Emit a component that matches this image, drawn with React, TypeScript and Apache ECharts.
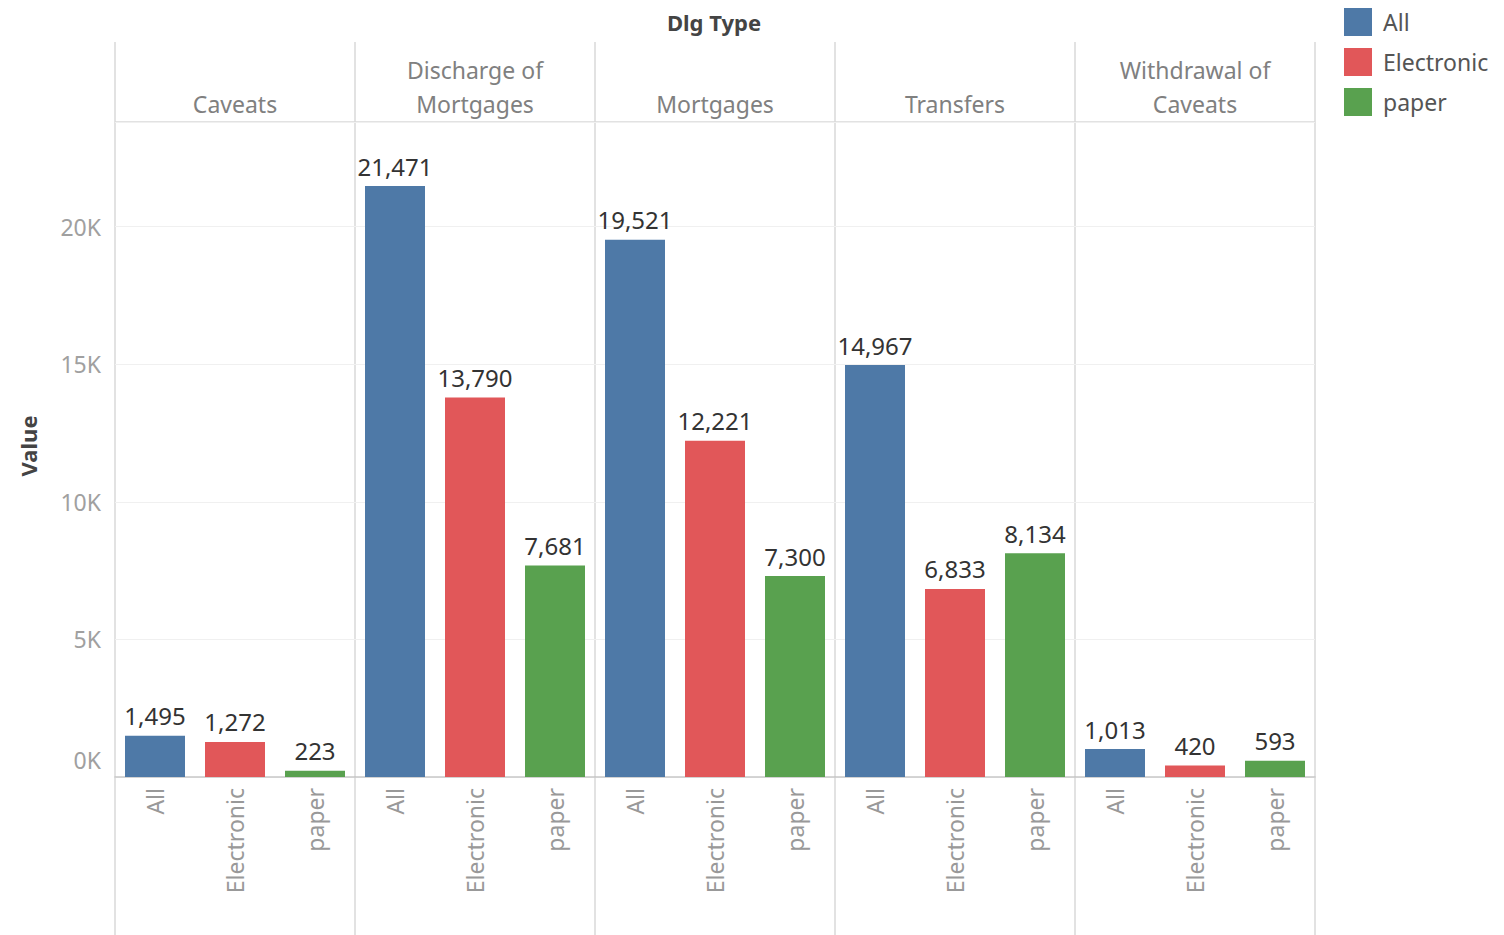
import React, { useEffect, useRef } from "react";
import * as echarts from "echarts";

const panels = ["Caveats", "Discharge of\nMortgages", "Mortgages", "Transfers", "Withdrawal of\nCaveats"];
const categories = ["All", "Electronic", "paper"];
const allValues = [1495, 21471, 19521, 14967, 1013];
const electronicValues = [1272, 13790, 12221, 6833, 420];
const paperValues = [223, 7681, 7300, 8134, 593];
const yTicks = [0, 5000, 10000, 15000, 20000];

const COLORS = ["#4e79a7", "#e15759", "#59a14f"];
const FONT = "Noto Sans";
const PANEL_LEFT = 115;
const PANEL_W = 240;
const PLOT_TOP = 122;
const PLOT_BOTTOM = 777;
const Y_MAX = 23800;

export default function App() {
  const ref = useRef<HTMLDivElement>(null);
  useEffect(() => {
    const chart = echarts.init(ref.current!, null, { renderer: "svg" });
    const seriesValues = [allValues, electronicValues, paperValues];
    const grids: any[] = [];
    const xAxes: any[] = [];
    const yAxes: any[] = [];
    const series: any[] = [];
    const graphics: any[] = [];
    panels.forEach((p, i) => {
      grids.push({
        left: PANEL_LEFT + PANEL_W * i,
        width: PANEL_W,
        top: PLOT_TOP,
        height: PLOT_BOTTOM - PLOT_TOP,
      });
      xAxes.push({
        type: "category",
        gridIndex: i,
        data: categories,
        axisLine: { show: true, lineStyle: { color: "#c8c8c8", width: 1.5 } },
        axisTick: { show: false },
        axisLabel: {
          rotate: 90,
          color: "#999",
          fontFamily: FONT,
          fontSize: 23,
          margin: 11,
        },
      });
      yAxes.push({
        type: "value",
        gridIndex: i,
        min: 0,
        max: Y_MAX,
        interval: 5000,
        axisLine: { show: false },
        axisTick: { show: false },
        splitLine: { show: true, lineStyle: { color: "#f0f0f0", width: 1 } },
        axisLabel: {
          show: i === 0,
          showMaxLabel: false,
          color: "#a0a0a0",
          fontFamily: FONT,
          fontSize: 23,
          margin: 14,
          formatter: (v: number) => {
            if (!yTicks.includes(v)) return "";
            const t = v / 1000 + "K";
            return v === 0 ? "{z|" + t + "}" : t;
          },
          rich: {
            z: { color: "#a0a0a0", fontFamily: FONT, fontSize: 23, padding: [0, 0, 34, 0] },
          },
        },
      });
      categories.forEach((c, k) => {
        const data = categories.map((_, j) => (j === k ? seriesValues[k][i] : "-"));
        series.push({
          type: "bar",
          name: c,
          xAxisIndex: i,
          yAxisIndex: i,
          data,
          barWidth: 60,
          barGap: "-100%",
          itemStyle: { color: COLORS[k] },
          label: {
            show: true,
            position: "top",
            distance: 8,
            color: "#333",
            fontFamily: FONT,
            fontSize: 24,
            formatter: (prm: any) => Number(prm.value).toLocaleString("en-US"),
          },
        });
      });
      graphics.push({
        type: "text",
        x: PANEL_LEFT + PANEL_W * i + PANEL_W / 2,
        y: 121,
        style: {
          text: p,
          fill: "#808080",
          font: `23px '${FONT}'`,
          textAlign: "center",
          textVerticalAlign: "bottom",
          lineHeight: 34,
        },
      });
    });
    for (let i = 0; i <= panels.length; i++) {
      graphics.push({
        type: "line",
        shape: { x1: PANEL_LEFT + PANEL_W * i, y1: 42, x2: PANEL_LEFT + PANEL_W * i, y2: 935 },
        style: { stroke: "#d8d8d8", lineWidth: 1.5 },
        z: -1,
      });
    }
    graphics.push({
      type: "line",
      shape: { x1: PANEL_LEFT, y1: PLOT_TOP, x2: PANEL_LEFT + PANEL_W * panels.length, y2: PLOT_TOP },
      style: { stroke: "#d8d8d8", lineWidth: 1.5 },
    });
    graphics.push({
      type: "text",
      x: 714,
      y: 22,
      style: {
        text: "Dlg Type",
        fill: "#444",
        font: `bold 22px '${FONT}'`,
        textAlign: "center",
        textVerticalAlign: "middle",
      },
    });
    graphics.push({
      type: "text",
      x: 28,
      y: 446,
      rotation: Math.PI / 2,
      style: {
        text: "Value",
        fill: "#444",
        font: `bold 22px '${FONT}'`,
        textAlign: "center",
        textVerticalAlign: "middle",
      },
    });

    chart.setOption({
      animation: false,
      backgroundColor: "#fff",
      grid: grids,
      xAxis: xAxes,
      yAxis: yAxes,
      series,
      legend: {
        data: categories,
        orient: "vertical",
        left: 1344,
        top: 8,
        padding: 0,
        itemWidth: 28,
        itemHeight: 28,
        itemGap: 12,
        icon: "rect",
        textStyle: { color: "#555", fontFamily: FONT, fontSize: 23, padding: [0, 0, 0, 6] },
      },
      graphic: graphics,
    });
    return () => chart.dispose();
  }, []);
  return (
    <div
      ref={ref}
      style={{ position: "fixed", left: 0, top: 0, width: 1504, height: 935 }}
    />
  );
}
